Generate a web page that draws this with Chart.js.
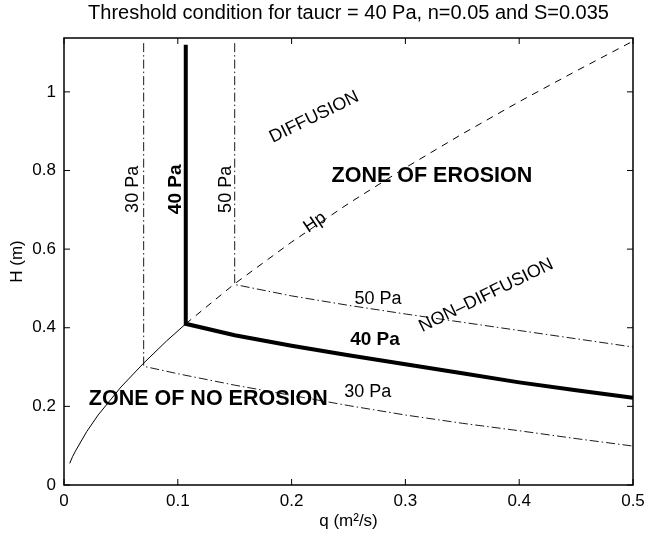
<!DOCTYPE html>
<html>
<head>
<meta charset="utf-8">
<script src="https://cdn.jsdelivr.net/npm/chart.js@4/dist/chart.umd.min.js"></script>
<style>
  html, body { margin: 0; padding: 0; background: #fff; }
  #wrap { width: 647px; height: 537px; }
</style>
</head>
<body>
<div id="wrap"><canvas id="c" width="647" height="537"></canvas></div>
<script>
// ---- Data ----
// Hp curve (solid part, below the 40 Pa threshold corner)
const hpSolidQ = [0.005, 0.0075, 0.01, 0.02, 0.03, 0.05, 0.07, 0.09, 0.107];
const hpSolidH = [0.055, 0.072, 0.086, 0.136, 0.178, 0.249, 0.310, 0.366, 0.41];
// Hp curve (dashed part)
const hpDashQ = [0.107, 0.15, 0.2, 0.25, 0.3, 0.35, 0.4, 0.45, 0.5];
const hpDashH = [0.41, 0.512, 0.618, 0.716, 0.807, 0.893, 0.975, 1.053, 1.129];
// 40 Pa threshold (thick)
const tau40Q = [0.107, 0.107, 0.15, 0.2, 0.25, 0.3, 0.35, 0.4, 0.45, 0.5];
const tau40H = [1.12, 0.41, 0.381, 0.354, 0.330, 0.307, 0.284, 0.261, 0.241, 0.222];
// 50 Pa threshold (dash-dot)
const tau50Q = [0.15, 0.15, 0.2, 0.25, 0.3, 0.35, 0.4, 0.45, 0.5];
const tau50H = [1.124, 0.51, 0.481, 0.457, 0.435, 0.414, 0.393, 0.372, 0.351];
// 30 Pa threshold (dash-dot)
const tau30Q = [0.07, 0.07, 0.1, 0.15, 0.2, 0.25, 0.3, 0.35, 0.4, 0.45, 0.5];
const tau30H = [1.124, 0.302, 0.283, 0.254, 0.228, 0.202, 0.178, 0.157, 0.138, 0.118, 0.099];

// Tick labels
const xTicks = [0, 0.1, 0.2, 0.3, 0.4, 0.5];
const yTicks = [0, 0.2, 0.4, 0.6, 0.8, 1];

const titleText = 'Threshold condition for taucr = 40 Pa, n=0.05 and S=0.035';

// Text annotations: text, q, H, rotation (deg), bold, size
const annText  = ['DIFFUSION', 'ZONE OF EROSION', 'Hp', '30 Pa', '40 Pa', '50 Pa', '50 Pa', 'NON\u2013DIFFUSION', '40 Pa', '30 Pa', 'ZONE OF NO EROSION'];
const annQ     = [0.2198, 0.3233, 0.2206, 0.0605, 0.0985, 0.1425, 0.276, 0.371, 0.2733, 0.267, 0.1268];
const annH     = [0.9356, 0.785, 0.668, 0.752, 0.752, 0.752, 0.472, 0.482, 0.370, 0.2355, 0.2177];
const annRot   = [-26, 0, -34, -90, -90, -90, 0, -26, 0, 0, 0];
const annBold  = [false, true, false, false, true, false, false, false, true, false, true];
const annSize  = [18, 21.5, 18, 18, 19, 18, 18, 18, 19, 18, 21.5];

const FONT = '"Liberation Sans", Arial, Helvetica, sans-serif';

function pts(qs, hs) { return qs.map((q, i) => ({ x: q, y: hs[i] })); }

const boxPlugin = {
  id: 'boxTicks',
  afterDatasetsDraw(chart) {
    const { ctx, chartArea: a, scales } = chart;
    ctx.save();
    ctx.strokeStyle = '#000';
    ctx.lineWidth = 1.5;
    ctx.strokeRect(a.left, a.top, a.right - a.left, a.bottom - a.top);
    ctx.lineWidth = 1;
    const tl = 6;
    ctx.beginPath();
    xTicks.forEach(v => {
      const x = scales.x.getPixelForValue(v);
      ctx.moveTo(x, a.bottom); ctx.lineTo(x, a.bottom - tl);
      ctx.moveTo(x, a.top); ctx.lineTo(x, a.top + tl);
    });
    yTicks.forEach(v => {
      const y = scales.y.getPixelForValue(v);
      ctx.moveTo(a.left, y); ctx.lineTo(a.left + tl, y);
      ctx.moveTo(a.right, y); ctx.lineTo(a.right - tl, y);
    });
    ctx.stroke();
    ctx.fillStyle = '#000';
    ctx.textAlign = 'center';
    ctx.textBaseline = 'middle';
    // title centred over the plot box
    ctx.font = '20px ' + FONT;
    ctx.fillText(titleText, (a.left + a.right) / 2, 13);
    // annotations
    annText.forEach((t, i) => {
      const x = scales.x.getPixelForValue(annQ[i]);
      const y = scales.y.getPixelForValue(annH[i]);
      ctx.save();
      ctx.translate(x, y);
      ctx.rotate(annRot[i] * Math.PI / 180);
      ctx.font = (annBold[i] ? 'bold ' : '') + annSize[i] + 'px ' + FONT;
      ctx.fillText(t, 0, 0);
      ctx.restore();
    });
    ctx.restore();
  }
};

const lineBase = { showLine: true, pointRadius: 0, borderColor: '#000', fill: false, tension: 0 };

new Chart(document.getElementById('c'), {
  type: 'scatter',
  data: {
    datasets: [
      Object.assign({}, lineBase, { label: 'Hp', data: pts(hpSolidQ, hpSolidH), borderWidth: 1 }),
      Object.assign({}, lineBase, { label: 'Hp dashed', data: pts(hpDashQ, hpDashH), borderWidth: 1, borderDash: [7, 6] }),
      Object.assign({}, lineBase, { label: '30 Pa', data: pts(tau30Q, tau30H), borderWidth: 0.9, borderDash: [9, 3, 1.5, 3] }),
      Object.assign({}, lineBase, { label: '50 Pa', data: pts(tau50Q, tau50H), borderWidth: 0.9, borderDash: [9, 3, 1.5, 3] }),
      Object.assign({}, lineBase, { label: '40 Pa', data: pts(tau40Q, tau40H), borderWidth: 4, borderCapStyle: 'butt', borderJoinStyle: 'miter' })
    ]
  },
  options: {
    responsive: false,
    animation: false,
    devicePixelRatio: 1,
    layout: { padding: { left: 0, right: 14, top: 38, bottom: 0 } },
    plugins: {
      legend: { display: false },
      tooltip: { enabled: false },
      title: { display: false }
    },
    scales: {
      x: {
        type: 'linear', min: 0, max: 0.5,
        grid: { display: false, drawTicks: false },
        border: { display: false },
        afterBuildTicks: s => { s.ticks = xTicks.map(v => ({ value: v })); },
        afterFit: s => { s.height = 52; s.paddingLeft = 0; s.paddingRight = 0; },
        ticks: {
          color: '#000', padding: 6, maxRotation: 0,
          font: { family: FONT, size: 17 },
          callback: v => String(+(+v).toFixed(2))
        },
        title: {
          display: true, text: 'q (m\u00B2/s)', color: '#000',
          font: { family: FONT, size: 17 },
          padding: { top: 0, bottom: 5 }
        }
      },
      y: {
        type: 'linear', min: 0, max: 1.137,
        grid: { display: false, drawTicks: false },
        border: { display: false },
        afterBuildTicks: s => { s.ticks = yTicks.map(v => ({ value: v })); },
        afterFit: s => { s.width = 64; s.paddingTop = 0; s.paddingBottom = 0; },
        ticks: {
          color: '#000', padding: 8,
          font: { family: FONT, size: 17 },
          callback: v => String(+(+v).toFixed(2))
        },
        title: {
          display: true, text: 'H (m)', color: '#000',
          font: { family: FONT, size: 17 },
          padding: { top: 7, bottom: 0 }
        }
      }
    }
  },
  plugins: [boxPlugin]
});
</script>
</body>
</html>
